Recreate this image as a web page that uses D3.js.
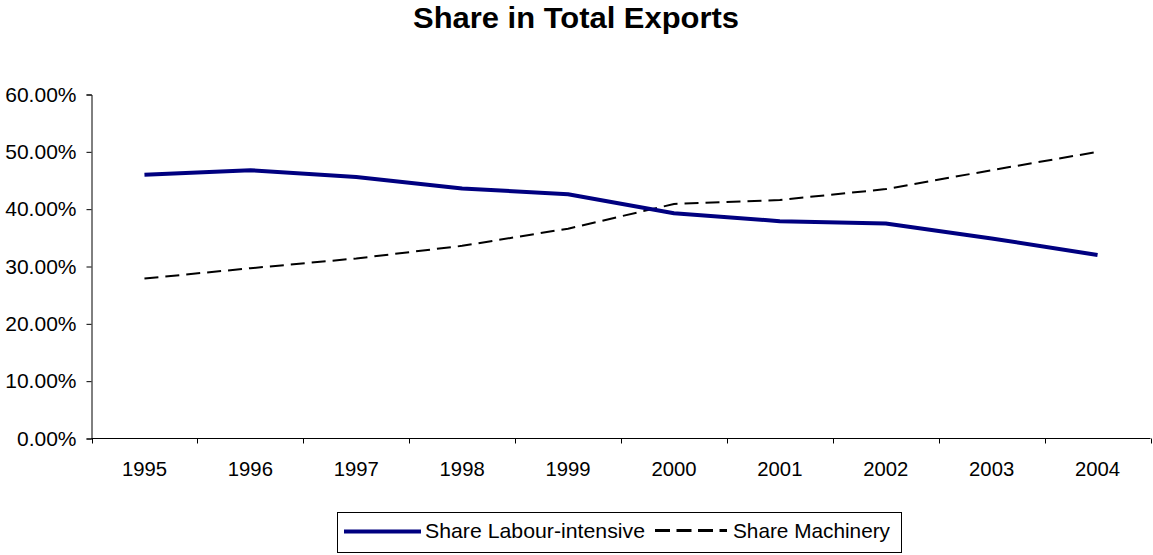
<!DOCTYPE html>
<html>
<head>
<meta charset="utf-8">
<script src="https://cdn.jsdelivr.net/npm/d3@7/dist/d3.min.js"></script>
<style>
  html, body { margin: 0; padding: 0; background: #fff; }
  svg { display: block; font-family: "Liberation Sans", Arial, sans-serif; }
</style>
</head>
<body>
<svg id="chart" width="1153" height="555"></svg>
<script>
// Export shares by year
const years = ["1995", "1996", "1997", "1998", "1999", "2000", "2001", "2002", "2003", "2004"];
const labourShare = [46.0, 46.8, 45.6, 43.6, 42.6, 39.3, 37.9, 37.5, 34.9, 32.0];
const machineryShare = [27.9, 29.7, 31.4, 33.6, 36.6, 40.9, 41.6, 43.5, 46.8, 50.0];
const yTicks = [0, 10, 20, 30, 40, 50, 60];
const seriesNames = ["Share Labour-intensive", "Share Machinery"];

const svg = d3.select("#chart");
const plotLeft = 91.5, plotRight = 1150.5, plotTop = 94.5, plotBottom = 438.5;
const fontFamily = "Liberation Sans, Arial, sans-serif";

const x = d3.scaleBand().domain(years).range([plotLeft, plotRight]).padding(0);
const y = d3.scaleLinear().domain([0, 60]).range([plotBottom, plotTop]);

// Title
svg.append("text")
  .attr("x", 576).attr("y", 28)
  .attr("text-anchor", "middle")
  .attr("font-size", 30).attr("font-weight", "bold")
  .attr("textLength", 326).attr("lengthAdjust", "spacingAndGlyphs")
  .text("Share in Total Exports");

// Y axis
const yAxis = svg.append("g")
  .attr("transform", `translate(${plotLeft},0)`)
  .call(d3.axisLeft(y).tickValues(yTicks).tickSize(5).tickPadding(10)
    .tickFormat(d => d.toFixed(2) + "%"));
yAxis.select(".domain").attr("stroke", "#000");
yAxis.selectAll(".tick line").attr("stroke", "#000");
yAxis.selectAll("text").attr("font-size", 21).attr("fill", "#000")
  .attr("font-family", fontFamily);

// X axis with ticks between categories
const xAxis = svg.append("g")
  .attr("transform", `translate(0,${plotBottom})`)
  .call(d3.axisBottom(x).tickSize(0).tickPadding(23));
xAxis.select(".domain").attr("stroke", "#000").attr("d", `M${plotLeft},0H${plotRight}`);
xAxis.selectAll("text").attr("font-size", 20.3).attr("fill", "#000")
  .attr("font-family", fontFamily);
const boundaries = years.map(d => x(d)).concat([x(years[years.length - 1]) + x.bandwidth()]);
xAxis.selectAll(".bound").data(boundaries).enter().append("line")
  .attr("class", "bound")
  .attr("x1", d => Math.round(d) + 0.5).attr("x2", d => Math.round(d) + 0.5)
  .attr("y1", 0).attr("y2", 5)
  .attr("stroke", "#000");

const cx = d => x(d) + x.bandwidth() / 2;
const line = d3.line().x(d => cx(d[0])).y(d => y(d[1]));

// Machinery share (dashed)
svg.append("path")
  .datum(years.map((d, i) => [d, machineryShare[i]]))
  .attr("d", line)
  .attr("fill", "none").attr("stroke", "#000")
  .attr("stroke-width", 2).attr("stroke-dasharray", "14,7");

// Labour-intensive share (solid navy)
svg.append("path")
  .datum(years.map((d, i) => [d, labourShare[i]]))
  .attr("d", line)
  .attr("fill", "none").attr("stroke", "#000080")
  .attr("stroke-width", 4).attr("stroke-linejoin", "round");

// Legend
const legend = svg.append("g");
legend.append("rect")
  .attr("x", 337.5).attr("y", 512.5).attr("width", 564).attr("height", 40)
  .attr("fill", "#fff").attr("stroke", "#000");
legend.append("line")
  .attr("x1", 344).attr("x2", 421).attr("y1", 531.5).attr("y2", 531.5)
  .attr("stroke", "#000080").attr("stroke-width", 4);
legend.append("text")
  .attr("x", 425).attr("y", 538).attr("font-size", 21)
  .attr("textLength", 220).attr("lengthAdjust", "spacingAndGlyphs")
  .text(seriesNames[0]);
legend.append("line")
  .attr("x1", 655).attr("x2", 727).attr("y1", 530.5).attr("y2", 530.5)
  .attr("stroke", "#000").attr("stroke-width", 3).attr("stroke-dasharray", "15,6.5");
legend.append("text")
  .attr("x", 733).attr("y", 538).attr("font-size", 21)
  .attr("textLength", 157).attr("lengthAdjust", "spacingAndGlyphs")
  .text(seriesNames[1]);
</script>
</body>
</html>
